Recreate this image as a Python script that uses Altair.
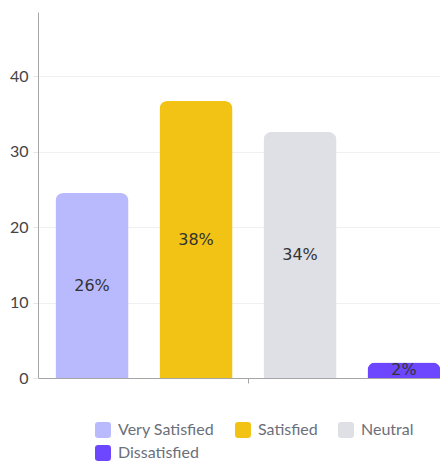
import altair as alt
import pandas as pd

categories = ["Very Satisfied", "Satisfied", "Neutral", "Dissatisfied"]
values = [24.5, 36.7, 32.6, 2.06]
labels = ["26%", "38%", "34%", "2%"]
colors = ["#b9b9fd", "#f2c314", "#dfe0e5", "#6c47ff"]
y_ticks = [0, 10, 20, 30, 40]

df = pd.DataFrame({
    "group": [""] * len(categories),
    "category": categories,
    "value": values,
    "label": labels,
})

rounded_square = ("M -0.6,-1 H 0.6 Q 1,-1 1,-0.6 V 0.6 Q 1,1 0.6,1 H -0.6 "
                  "Q -1,1 -1,0.6 V -0.6 Q -1,-1 -0.6,-1 Z")

x_enc = alt.X(
    "group:N",
    axis=alt.Axis(title=None, labels=False, domainColor="#a6a6a6",
                  tickColor="#a6a6a6", tickSize=5),
    scale=alt.Scale(paddingInner=0, paddingOuter=0),
)
xo_enc = alt.XOffset(
    "category:N", sort=categories,
    scale=alt.Scale(paddingInner=0.298, paddingOuter=0.168),
)
y_scale = alt.Scale(domain=[0, 48.5], nice=False)

base = alt.Chart(df)

bars = base.mark_bar(cornerRadiusTopLeft=8, cornerRadiusTopRight=8).encode(
    x=x_enc,
    xOffset=xo_enc,
    y=alt.Y(
        "value:Q", scale=y_scale,
        axis=alt.Axis(values=y_ticks, title=None, gridColor="#f0f0f0",
                      domainColor="#a6a6a6", tickColor="#e6e6e6", tickSize=5,
                      labelPadding=5, labelFont="Lato", labelFontSize=16,
                      labelColor="#444444"),
    ),
    color=alt.Color(
        "category:N", sort=categories,
        scale=alt.Scale(domain=categories, range=colors),
        legend=alt.Legend(
            title=None, orient="none", legendX=57, legendY=410,
            direction="horizontal", columns=3, symbolType=rounded_square,
            symbolSize=256, symbolStrokeWidth=0, symbolOpacity=1,
            labelFont="Lato", labelFontSize=16, labelColor="#6b6f7b",
            labelOffset=7, columnPadding=20, rowPadding=7, padding=0,
        ),
    ),
)

text = base.transform_calculate(mid="datum.value / 2").mark_text(
    font="DejaVu Sans", fontSize=16, color="#333333", baseline="middle"
).encode(
    x=x_enc,
    xOffset=xo_enc,
    y=alt.Y("mid:Q", scale=y_scale),
    text="label:N",
)

chart = alt.layer(bars, text).properties(
    width=420, height=366,
    autosize=alt.AutoSizeParams(type="none"),
    padding={"left": 30, "top": 4, "right": -18, "bottom": 84},
).configure_view(stroke=None)

chart.save("out.html", embed_options={"renderer": "svg", "actions": False})
